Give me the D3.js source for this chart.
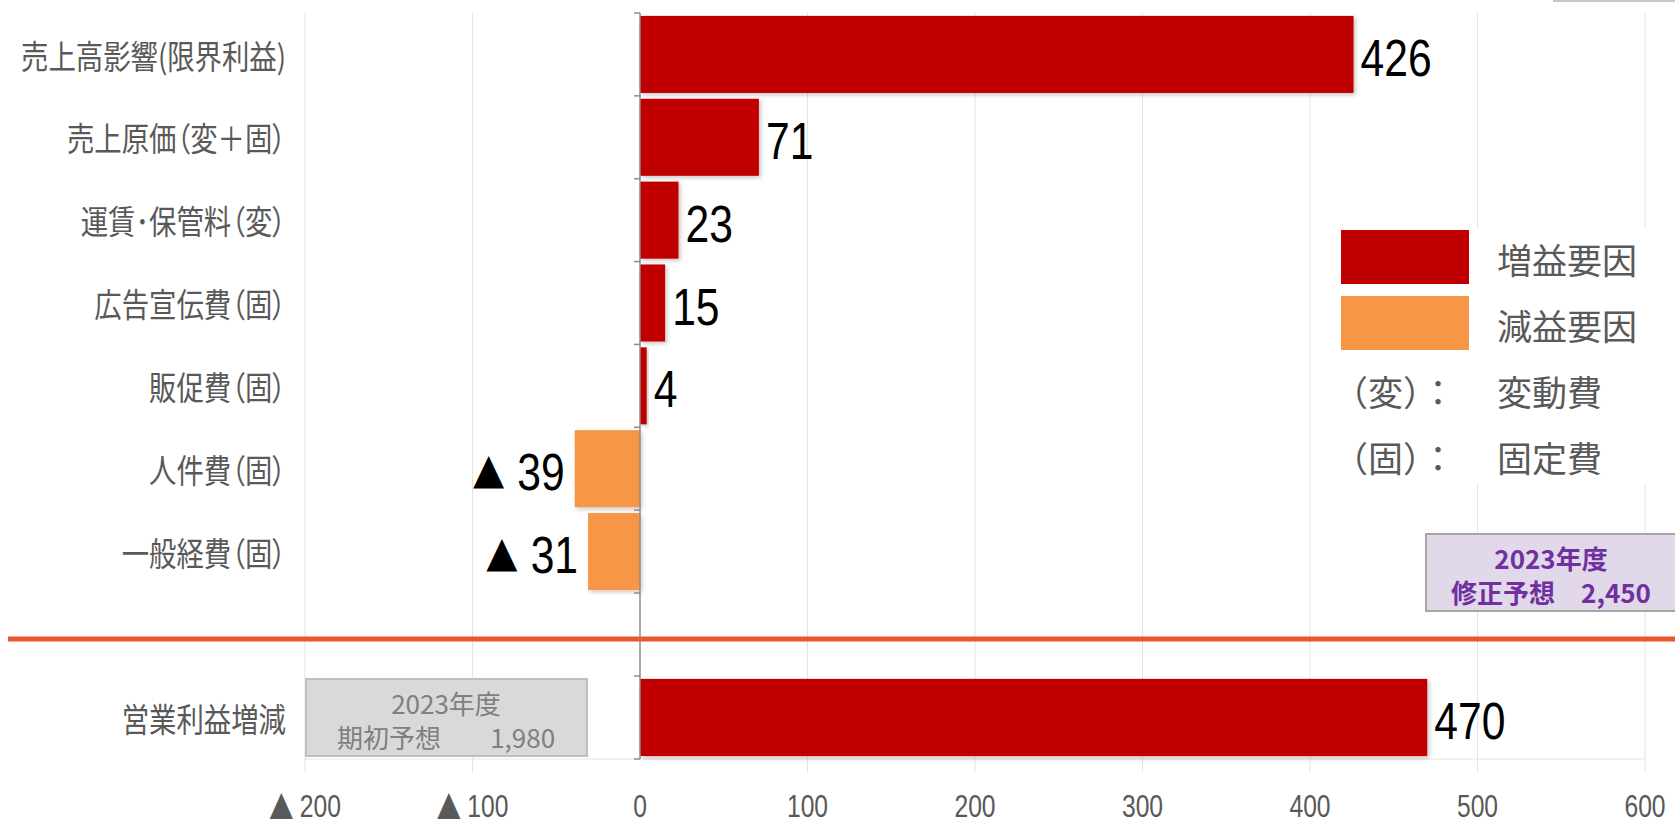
<!DOCTYPE html>
<html>
<head>
<meta charset="utf-8">
<script src="https://cdn.jsdelivr.net/npm/d3@7"></script>
<style>
html, body { margin: 0; padding: 0; background: #fff; }
svg { display: block; }
text { white-space: pre; }
</style>
</head>
<body>
<svg id="chart" width="1675" height="825"></svg>
<script>
// data
var categories = ["売上高影響(限界利益)", "売上原価（変＋固）", "運賃･保管料（変）", "広告宣伝費（固）", "販促費（固）", "人件費（固）", "一般経費（固）"];
var values = [426, 71, 23, 15, 4, -39, -31];
var totalCategory = ["営業利益増減"];
var totalValue = [470];
var tickValues = [-200, -100, 0, 100, 200, 300, 400, 500, 600];
var legendLabels = ["増益要因", "減益要因"];
var legendColors = ["#C00000", "#F79646"];
var noteKeys = ["（変）：", "（固）："];
var noteLabels = ["変動費", "固定費"];
var initialPlan = ["2023年度", "期初予想　    1,980"];
var revisedPlan = ["2023年度", "修正予想　2,450"];

var CJK = "'Noto Sans CJK JP', 'Noto Sans CJK SC', sans-serif";
var NUM = "'Liberation Sans', Arial, sans-serif";

var svg = d3.select("#chart");

var x = d3.scaleLinear().domain([-200, 600]).range([305, 1645]);
var yTop = d3.scaleBand().domain(categories).range([13, 593]).paddingInner(0.07).paddingOuter(0.035);
var yBot = d3.scaleBand().domain(totalCategory).range([676, 759]).paddingInner(0.07).paddingOuter(0.035);

var defs = svg.append("defs");
var f = defs.append("filter").attr("id", "shadow").attr("x", "-10%").attr("y", "-20%").attr("width", "130%").attr("height", "150%");
f.append("feDropShadow").attr("dx", 2).attr("dy", 2).attr("stdDeviation", 2)
    .attr("flood-color", "#000").attr("flood-opacity", 0.22);

function color(v) { return v >= 0 ? legendColors[0] : legendColors[1]; }

// gridlines
svg.append("g").selectAll("line")
    .data(tickValues.filter(function(d) { return d !== 0; }))
    .enter().append("line")
    .attr("x1", function(d) { return x(d); })
    .attr("x2", function(d) { return x(d); })
    .attr("y1", 13).attr("y2", 772)
    .attr("stroke", "#E3E3E3").attr("stroke-width", 1);

// bottom line of lower panel
svg.append("line")
    .attr("x1", x(-200)).attr("x2", x(600))
    .attr("y1", yBot.range()[1]).attr("y2", yBot.range()[1])
    .attr("stroke", "#E3E3E3");

// separator
svg.append("line")
    .attr("x1", 8).attr("x2", 1675).attr("y1", 639).attr("y2", 639)
    .attr("stroke", "#EA5532").attr("stroke-width", 5);

// bars
function drawBars(data, cats, y) {
    svg.append("g").selectAll("rect")
        .data(data)
        .enter().append("rect")
        .attr("x", function(d) { return x(Math.min(0, d)); })
        .attr("width", function(d) { return Math.abs(x(d) - x(0)); })
        .attr("y", function(d, i) { return y(cats[i]); })
        .attr("height", y.bandwidth())
        .attr("fill", color)
        .attr("filter", "url(#shadow)");

    // narrow numbers, as in the original
    var lbl = svg.append("g").selectAll("text")
        .data(data)
        .enter().append("text")
        .attr("transform", function(d, i) {
            var tx = d >= 0 ? x(d) + 7 : x(d) - 10;
            return "translate(" + tx + "," + (y(cats[i]) + y.bandwidth() / 2 + 3) + ") scale(0.82,1)";
        })
        .attr("text-anchor", function(d) { return d >= 0 ? "start" : "end"; })
        .attr("dominant-baseline", "central")
        .attr("font-family", NUM).attr("font-size", 52).attr("fill", "#000");
    lbl.filter(function(d) { return d < 0; }).append("tspan")
        .attr("font-family", CJK).attr("font-size", 40).text("▲");
    lbl.append("tspan")
        .attr("dx", function(d) { return d < 0 ? 15 : 0; })
        .text(function(d) { return Math.abs(d); });
}
drawBars(values, categories, yTop);
drawBars(totalValue, totalCategory, yBot);

// zero axis with ticks at band edges
svg.append("line")
    .attr("x1", x(0)).attr("x2", x(0)).attr("y1", 13).attr("y2", yBot.range()[1])
    .attr("stroke", "#8C8C8C").attr("stroke-width", 1.5);
function edges(y) {
    var n = y.domain().length, r = y.range(), s = (r[1] - r[0]) / n;
    return d3.range(n + 1).map(function(i) { return r[0] + i * s; });
}
svg.append("g").selectAll("line")
    .data(edges(yTop).concat(edges(yBot)))
    .enter().append("line")
    .attr("x1", x(0) - 6).attr("x2", x(0))
    .attr("y1", function(d) { return d; }).attr("y2", function(d) { return d; })
    .attr("stroke", "#8C8C8C").attr("stroke-width", 1.5);

// category labels (condensed like the original)
function drawCats(cats, y) {
    svg.append("g").selectAll("text")
        .data(cats)
        .enter().append("text")
        .attr("transform", function(d) {
            return "translate(286," + (y(d) + y.bandwidth() / 2) + ") scale(0.83,1)";
        })
        .attr("text-anchor", "end")
        .attr("dominant-baseline", "central")
        .style("font-feature-settings", "'palt'")
        .attr("font-family", CJK).attr("font-size", 33).attr("fill", "#595959")
        .text(function(d) { return d; });
}
drawCats(categories, yTop);
drawCats(totalCategory, yBot);

// x tick labels
var tl = svg.append("g").selectAll("text")
    .data(tickValues)
    .enter().append("text")
    .attr("transform", function(d) { return "translate(" + x(d) + ",806) scale(0.77,1)"; })
    .attr("text-anchor", "middle")
    .attr("dominant-baseline", "central")
    .attr("font-family", NUM).attr("font-size", 32).attr("fill", "#595959");
tl.filter(function(d) { return d < 0; }).append("tspan")
    .attr("font-family", CJK).attr("font-size", 32).attr("dy", -2).text("▲");
tl.append("tspan")
    .attr("dx", function(d) { return d < 0 ? 8 : 0; })
    .attr("dy", function(d) { return d < 0 ? 2 : 0; })
    .text(function(d) { return Math.abs(d); });

// legend
var lg = svg.append("g");
lg.append("rect").attr("x", 1326).attr("y", 228).attr("width", 349).attr("height", 255).attr("fill", "#fff");
lg.selectAll("rect.key").data(legendColors).enter().append("rect")
    .attr("class", "key")
    .attr("x", 1341).attr("y", function(d, i) { return 230 + i * 66; })
    .attr("width", 128).attr("height", 54).attr("fill", function(d) { return d; });
lg.selectAll("text.lab").data(legendLabels.concat(noteLabels)).enter().append("text")
    .attr("class", "lab")
    .attr("x", 1497).attr("y", function(d, i) { return 258 + i * 66.3; })
    .attr("dominant-baseline", "central")
    .attr("font-family", CJK).attr("font-size", 35).attr("fill", "#595959")
    .text(function(d) { return d; });
lg.selectAll("text.note").data(noteKeys).enter().append("text")
    .attr("class", "note")
    .attr("x", 1333).attr("y", function(d, i) { return 390 + i * 66.3; })
    .attr("dominant-baseline", "central")
    .attr("font-family", CJK).attr("font-size", 35).attr("fill", "#595959")
    .text(function(d) { return d; });

// plan boxes
function planBox(lines, bx, by, bw, bh, fill, stroke, tc, weight, cx) {
    var g = svg.append("g");
    g.append("rect").attr("x", bx).attr("y", by).attr("width", bw).attr("height", bh)
        .attr("fill", fill).attr("stroke", stroke).attr("stroke-width", 2);
    g.selectAll("text").data(lines).enter().append("text")
        .attr("x", cx).attr("y", function(d, i) { return by + 23 + i * 34; })
        .attr("text-anchor", "middle").attr("dominant-baseline", "central")
        .attr("font-family", CJK).attr("font-size", 26).attr("font-weight", weight)
        .attr("fill", tc)
        .text(function(d) { return d; });
}
planBox(initialPlan, 306, 679, 281, 77, "#D9D9D9", "#BFBFBF", "#7F7F7F", 400, 446);
planBox(revisedPlan, 1426, 534, 260, 77, "#E1D8EA", "#A6A6A6", "#7030A0", 700, 1551);

// thin line top right
svg.append("line").attr("x1", 1553).attr("x2", 1675).attr("y1", 1).attr("y2", 1)
    .attr("stroke", "#C8C8C8").attr("stroke-width", 2);
</script>
</body>
</html>
